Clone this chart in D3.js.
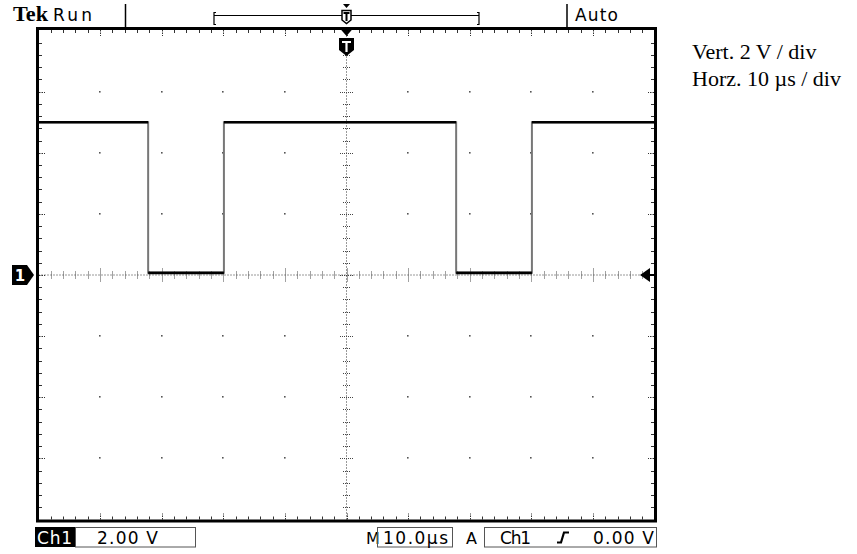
<!DOCTYPE html>
<html>
<head>
<meta charset="utf-8">
<script src="https://cdn.jsdelivr.net/npm/d3@7"></script>
<style>
  html, body { margin: 0; padding: 0; background: #fff; }
  svg { display: block; }
</style>
</head>
<body>
<script>
// ---- data ----
const timeUs   = [0, 17.8, 17.8, 30.1, 30.1, 67.8, 67.8, 80.1, 80.1, 100];
const ch1Volts = [5.0, 5.0, 0.07, 0.07, 5.0, 5.0, 0.07, 0.07, 5.0, 5.0];

const timeDomain = [0, 100];      // 10 div x 10 µs
const voltDomain = [-8, 8];       // 8 div x 2 V
const timeMajor = 10, timeMinor = 2;
const voltMajor = 2,  voltMinor = 0.4;

const topLabels = ["Tek", "Run", "Auto"];
const ch1Label = "Ch1";
const ch1Scale = "2.00 V";
const timebaseLabel = "M";
const timebase = "10.0µs";
const trigLabels = ["A", "Ch1", "0.00 V"];
const notes = ["Vert. 2 V / div", "Horz. 10 µs / div"];

// ---- drawing ----
const W = 857, H = 554;
const svg = d3.select("body").append("svg").attr("width", W).attr("height", H);
svg.append("rect").attr("width", W).attr("height", H).attr("fill", "#fff");

const x = d3.scaleLinear().domain(timeDomain).range([38.5, 654.5]);
const y = d3.scaleLinear().domain(voltDomain).range([519.5, 30.5]);

const g = svg.append("g");

// grid dots at major intersections
const xMaj = d3.range(timeDomain[0], timeDomain[1] + 0.001, timeMajor);
const yMaj = d3.range(voltDomain[0], voltDomain[1] + 0.001, voltMajor);
const xMid = (timeDomain[0] + timeDomain[1]) / 2;
const yMid = (voltDomain[0] + voltDomain[1]) / 2;
const dots = [];
xMaj.slice(1, -1).forEach(t => yMaj.slice(1, -1).forEach(v => {
  if (t !== xMid && v !== yMid) dots.push([t, v]);
}));
g.selectAll("rect.dot").data(dots).enter().append("rect")
  .attr("class", "dot")
  .attr("x", d => Math.round(x(d[0])) - 1).attr("y", d => Math.round(y(d[1])) - 1)
  .attr("width", 1.6).attr("height", 1.6).attr("fill", "#555");

// center dotted lines
g.append("line").attr("x1", x(timeDomain[0])).attr("x2", x(timeDomain[1]))
  .attr("y1", y(yMid)).attr("y2", y(yMid))
  .attr("stroke", "#333").attr("stroke-width", 1).attr("stroke-dasharray", "1,2");
g.append("line").attr("x1", x(xMid)).attr("x2", x(xMid))
  .attr("y1", y(voltDomain[0])).attr("y2", y(voltDomain[1]))
  .attr("stroke", "#333").attr("stroke-width", 1).attr("stroke-dasharray", "1,2");

const xMinorT = d3.range(timeDomain[0], timeDomain[1] + 0.001, timeMinor);
const yMinorT = d3.range(voltDomain[0], voltDomain[1] + 0.001, voltMinor);
const isMajT = t => Math.abs(t / timeMajor - Math.round(t / timeMajor)) < 1e-6;
const isMajV = v => Math.abs(v / voltMajor - Math.round(v / voltMajor)) < 1e-6;

// cross ticks on center lines
g.selectAll("line.cx").data(xMinorT.slice(1, -1)).enter().append("line")
  .attr("x1", d => Math.round(x(d)) + 0.5).attr("x2", d => Math.round(x(d)) + 0.5)
  .attr("y1", d => y(yMid) - (isMajT(d) ? 6.5 : 3.5))
  .attr("y2", d => y(yMid) + (isMajT(d) ? 6.5 : 3.5))
  .attr("stroke", "#444").attr("stroke-dasharray", "1,1");
g.selectAll("line.cy").data(yMinorT.slice(1, -1)).enter().append("line")
  .attr("y1", d => Math.round(y(d)) + 0.5).attr("y2", d => Math.round(y(d)) + 0.5)
  .attr("x1", d => x(xMid) - (isMajV(d) ? 6.5 : 3.5))
  .attr("x2", d => x(xMid) + (isMajV(d) ? 6.5 : 3.5))
  .attr("stroke", "#444").attr("stroke-dasharray", "1,1");

// border ticks
const inL = 39, inR = 654, inT = 30, inB = 519.5;
g.selectAll("line.bt").data(xMinorT.slice(1, -1)).enter().append("line")
  .attr("x1", d => Math.round(x(d)) + 0.5).attr("x2", d => Math.round(x(d)) + 0.5)
  .attr("y1", inT).attr("y2", d => inT + (isMajT(d) ? 6 : 3))
  .attr("stroke", "#333").attr("stroke-dasharray", d => isMajT(d) ? "1.5,1" : null);
g.selectAll("line.bb").data(xMinorT.slice(1, -1)).enter().append("line")
  .attr("x1", d => Math.round(x(d)) + 0.5).attr("x2", d => Math.round(x(d)) + 0.5)
  .attr("y1", inB).attr("y2", d => inB - (isMajT(d) ? 6 : 3))
  .attr("stroke", "#333").attr("stroke-dasharray", d => isMajT(d) ? "1.5,1" : null);
g.selectAll("line.bl").data(yMinorT.slice(1, -1)).enter().append("line")
  .attr("y1", d => Math.round(y(d)) + 0.5).attr("y2", d => Math.round(y(d)) + 0.5)
  .attr("x1", inL).attr("x2", d => inL + (isMajV(d) ? 6 : 3))
  .attr("stroke", "#333").attr("stroke-dasharray", d => isMajV(d) ? "1.5,1" : null);
g.selectAll("line.br").data(yMinorT.slice(1, -1)).enter().append("line")
  .attr("y1", d => Math.round(y(d)) + 0.5).attr("y2", d => Math.round(y(d)) + 0.5)
  .attr("x1", inR).attr("x2", d => inR - (isMajV(d) ? 6 : 3))
  .attr("stroke", "#333").attr("stroke-dasharray", d => isMajV(d) ? "1.5,1" : null);

// trace
const pts = timeUs.map((t, i) => [t, ch1Volts[i]]);
const line = d3.line().x(d => x(d[0])).y(d => y(d[1]));
g.append("path").attr("d", line(pts)).attr("fill", "none")
  .attr("stroke", "#777").attr("stroke-width", 2);
const flats = [];
for (let i = 0; i < pts.length - 1; i++) {
  if (pts[i][1] === pts[i + 1][1]) flats.push([pts[i], pts[i + 1]]);
}
g.selectAll("path.flat").data(flats).enter().append("path")
  .attr("d", d => line(d)).attr("fill", "none")
  .attr("stroke", "#000").attr("stroke-width", 2.6);

// frame
svg.append("rect").attr("x", 37.5).attr("y", 28.5).attr("width", 618).attr("height", 492.5)
  .attr("fill", "none").attr("stroke", "#000").attr("stroke-width", 3);

// ---- top status bar ----
const sans = "'DejaVu Sans', Verdana, sans-serif";
svg.append("text").attr("x", 13).attr("y", 21).text(topLabels[0])
  .attr("font-family", "'Liberation Serif', serif").attr("font-weight", "bold")
  .attr("font-size", 21).attr("textLength", 35).attr("lengthAdjust", "spacingAndGlyphs");
svg.append("text").attr("x", 53).attr("y", 21).text(topLabels[1])
  .attr("font-family", sans).attr("font-size", 17).attr("textLength", 39);
svg.append("text").attr("x", 575).attr("y", 21).text(topLabels[2])
  .attr("font-family", sans).attr("font-size", 17).attr("textLength", 43);

svg.append("line").attr("x1", 125.5).attr("x2", 125.5).attr("y1", 4).attr("y2", 27)
  .attr("stroke", "#000").attr("stroke-width", 1.5);
svg.append("line").attr("x1", 567).attr("x2", 567).attr("y1", 4).attr("y2", 27)
  .attr("stroke", "#000").attr("stroke-width", 1.5);

// record-window bracket
svg.append("path").attr("d", "M216,12.5 L214,12.5 L214,24.5 L216,24.5 M214,15.5 L479,15.5 M477,12.5 L479,12.5 L479,24.5 L477,24.5")
  .attr("fill", "none").attr("stroke", "#000").attr("stroke-width", 1.2);
// small trigger marker inside bracket
const tx = x(xMid);
svg.append("path").attr("d", `M${tx - 3.5},4 L${tx + 3.5},4 L${tx},8 Z`).attr("fill", "#000");
svg.append("path").attr("d", `M${tx - 4.5},10.5 L${tx + 4.5},10.5 L${tx + 4.5},20 L${tx},23.5 L${tx - 4.5},20 Z`)
  .attr("fill", "#fff").attr("stroke", "#000").attr("stroke-width", 1.5);
svg.append("path").attr("d", `M${tx - 3},13 L${tx + 3},13 M${tx},13 L${tx},21`)
  .attr("stroke", "#000").attr("stroke-width", 2);

// trigger position marker on frame
svg.append("path").attr("d", `M${tx - 7},28 L${tx + 7},28 L${tx},36 Z`).attr("fill", "#000");
svg.append("path").attr("d", `M${tx - 7.5},38 L${tx + 7.5},38 L${tx + 7.5},50 L${tx},56 L${tx - 7.5},50 Z`).attr("fill", "#000");
svg.append("path").attr("d", `M${tx - 4.5},42 L${tx + 4.5},42 M${tx},42 L${tx},52`)
  .attr("stroke", "#fff").attr("stroke-width", 2.2);

// channel 1 ground marker
const gy = y(0);
svg.append("path").attr("d", `M12,${gy - 10} L27,${gy - 10} L34,${gy} L27,${gy + 10} L12,${gy + 10} Z`).attr("fill", "#000");
svg.append("text").attr("x", 20).attr("y", gy + 6).attr("text-anchor", "middle").text("1")
  .attr("font-family", sans).attr("font-weight", "bold").attr("font-size", 15).attr("fill", "#fff");

// trigger level arrow
svg.append("path").attr("d", `M640,${gy} L650,${gy - 7} L650,${gy + 7} Z`).attr("fill", "#000");
svg.append("line").attr("x1", 649).attr("x2", 655).attr("y1", gy).attr("y2", gy)
  .attr("stroke", "#000").attr("stroke-width", 2);

// ---- bottom status bar ----
const by = 544;
svg.append("rect").attr("x", 35).attr("y", 527).attr("width", 40).attr("height", 20).attr("fill", "#000");
svg.append("text").attr("x", 37).attr("y", by).text(ch1Label).attr("fill", "#fff")
  .attr("font-family", sans).attr("font-size", 17).attr("textLength", 35);
svg.append("rect").attr("x", 75.5).attr("y", 527.5).attr("width", 120).attr("height", 19.5)
  .attr("fill", "none").attr("stroke", "#555");
svg.append("text").attr("x", 97).attr("y", by).text(ch1Scale)
  .attr("font-family", sans).attr("font-size", 17).attr("textLength", 61);

svg.append("text").attr("x", 366).attr("y", by).text(timebaseLabel)
  .attr("font-family", sans).attr("font-size", 16).attr("textLength", 11);
svg.append("rect").attr("x", 377.5).attr("y", 527.5).attr("width", 75).attr("height", 19.5)
  .attr("fill", "none").attr("stroke", "#555");
svg.append("text").attr("x", 383).attr("y", by).text(timebase)
  .attr("font-family", sans).attr("font-size", 17).attr("textLength", 65);

svg.append("text").attr("x", 466).attr("y", by).text(trigLabels[0])
  .attr("font-family", sans).attr("font-size", 16).attr("textLength", 11);
svg.append("rect").attr("x", 484.5).attr("y", 527.5).attr("width", 172).attr("height", 19.5)
  .attr("fill", "none").attr("stroke", "#555");
svg.append("text").attr("x", 500).attr("y", by).text(trigLabels[1])
  .attr("font-family", sans).attr("font-size", 17).attr("textLength", 31);
svg.append("path").attr("d", "M557,542.5 L561,542.5 L564,532.5 L569,532.5")
  .attr("fill", "none").attr("stroke", "#000").attr("stroke-width", 2.2);
svg.append("text").attr("x", 593).attr("y", by).text(trigLabels[2])
  .attr("font-family", sans).attr("font-size", 17).attr("textLength", 61);

// ---- side notes ----
svg.selectAll("text.note").data(notes).enter().append("text")
  .attr("class", "note")
  .attr("x", 692).attr("y", (d, i) => 59 + i * 27)
  .attr("font-family", "'Liberation Serif', 'Times New Roman', serif")
  .attr("font-size", 22)
  .text(d => d);
</script>
</body>
</html>
